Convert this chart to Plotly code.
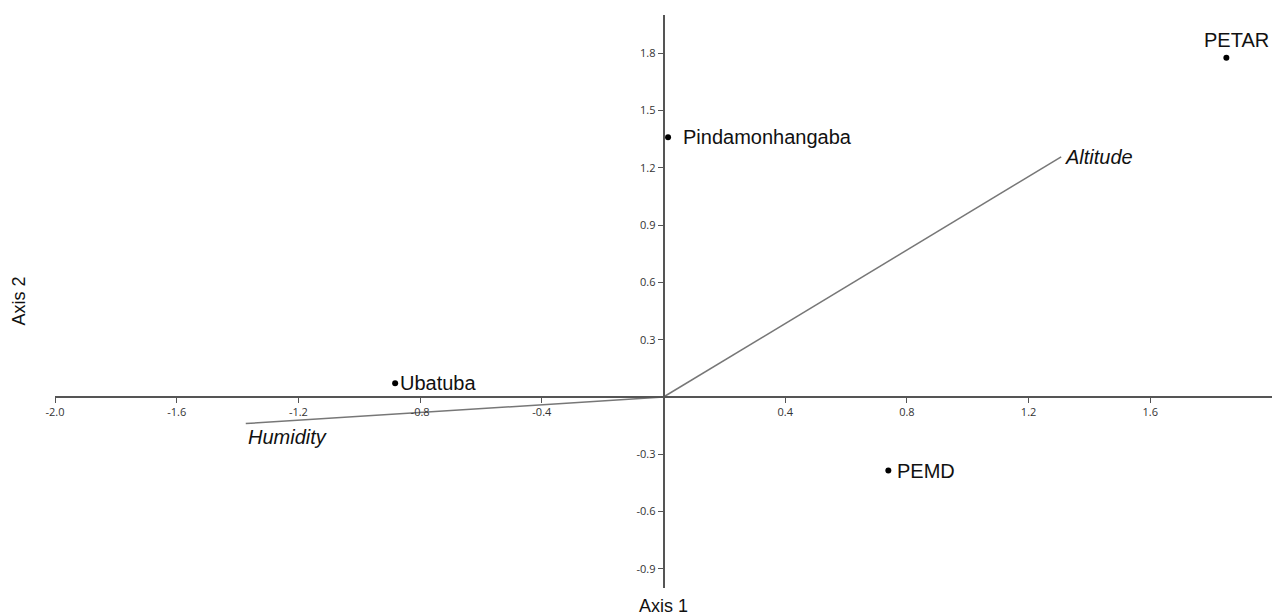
import plotly.graph_objects as go

# Data
site_names = ["PETAR", "Pindamonhangaba", "Ubatuba", "PEMD"]
site_axis1 = [1.850, 0.015, -0.882, 0.739]
site_axis2 = [1.776, 1.360, 0.072, -0.385]

vector_names = ["Altitude", "Humidity"]
vector_axis1 = [1.307, -1.373]
vector_axis2 = [1.257, -0.139]

x_ticks = [-2.0, -1.6, -1.2, -0.8, -0.4, 0.4, 0.8, 1.2, 1.6]
y_ticks = [-0.9, -0.6, -0.3, 0.3, 0.6, 0.9, 1.2, 1.5, 1.8]

X_RANGE = [-2.0, 2.0]
Y_RANGE = [-1.0, 2.0]

# label placement styles (pixels)
site_label_style = {
    "PETAR": dict(xanchor="center", yanchor="bottom", xshift=10, yshift=5),
    "Pindamonhangaba": dict(xanchor="left", yanchor="middle", xshift=13, yshift=0),
    "Ubatuba": dict(xanchor="left", yanchor="middle", xshift=3, yshift=0),
    "PEMD": dict(xanchor="left", yanchor="middle", xshift=7, yshift=0),
}
vector_label_style = {
    "Altitude": dict(xanchor="left", yanchor="middle", xshift=2, yshift=0),
    "Humidity": dict(xanchor="left", yanchor="top", xshift=0, yshift=0),
}

LABEL_FONT = dict(family="Liberation Sans, Arial", size=20, color="#111")
TITLE_FONT = dict(family="Liberation Sans, Arial", size=18, color="#111")
TICK_FONT = dict(family="Open Sans, DejaVu Sans", size=11, color="#333")

fig = go.Figure()

for name, vx, vy in zip(vector_names, vector_axis1, vector_axis2):
    fig.add_trace(go.Scatter(x=[0, vx], y=[0, vy], mode="lines",
                             line=dict(color="#777", width=1.5),
                             showlegend=False, hoverinfo="skip"))

fig.add_trace(go.Scatter(x=site_axis1, y=site_axis2, mode="markers",
                         marker=dict(color="black", size=6),
                         showlegend=False))

annotations = []
for name, sx, sy in zip(site_names, site_axis1, site_axis2):
    annotations.append(dict(x=sx, y=sy, xref="x", yref="y", text=name,
                            showarrow=False, font=LABEL_FONT,
                            **site_label_style[name]))
for name, vx, vy in zip(vector_names, vector_axis1, vector_axis2):
    annotations.append(dict(x=vx, y=vy, xref="x", yref="y",
                            text="<i>" + name + "</i>",
                            showarrow=False, font=LABEL_FONT,
                            **vector_label_style[name]))

annotations.append(dict(x=0.5, y=0, xref="paper", yref="paper",
                        yanchor="top", yshift=-6,
                        text="Axis 1", showarrow=False, font=TITLE_FONT))
annotations.append(dict(x=0, y=0.5, xref="paper", yref="paper",
                        text="Axis 2", showarrow=False, font=TITLE_FONT,
                        textangle=-90, xshift=-49))

fig.update_layout(
    width=1272, height=615,
    margin=dict(l=55, r=0, t=15, b=27),
    plot_bgcolor="white", paper_bgcolor="white",
    annotations=annotations,
    xaxis=dict(range=X_RANGE, anchor="free",
               position=(0 - Y_RANGE[0]) / (Y_RANGE[1] - Y_RANGE[0]),
               showgrid=False, zeroline=False, showline=True,
               linecolor="#555", linewidth=1.5,
               ticks="outside", ticklen=5, tickwidth=1.2, tickcolor="#555",
               tickvals=x_ticks, ticktext=[f"{v:.1f}" for v in x_ticks],
               tickfont=TICK_FONT),
    yaxis=dict(range=Y_RANGE, anchor="free",
               position=(0 - X_RANGE[0]) / (X_RANGE[1] - X_RANGE[0]),
               showgrid=False, zeroline=False, showline=True,
               linecolor="#555", linewidth=1.5,
               ticks="outside", ticklen=5, tickwidth=1.2, tickcolor="#555",
               tickvals=y_ticks, ticktext=[f"{v:.1f}" for v in y_ticks],
               tickfont=TICK_FONT),
)

fig.write_html(
    "out.html",
    config={"displayModeBar": False},
    post_script="document.body.style.margin='0';"
                "document.body.style.overflow='hidden';",
)
